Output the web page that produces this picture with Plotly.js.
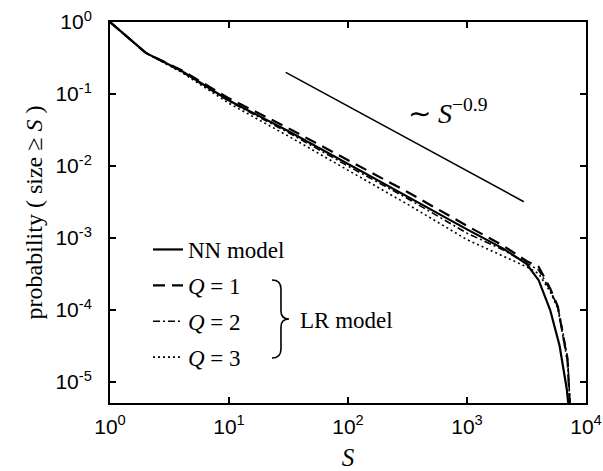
<!DOCTYPE html>
<html>
<head>
<meta charset="utf-8">
<script src="https://cdn.plot.ly/plotly-3.0.1.min.js"></script>
<style>html,body{margin:0;padding:0;background:#fff;}#plot{width:603px;height:471px;}</style>
</head>
<body>
<div id="plot"></div>
<script>
// ---- data ----
const nnS = [1, 2, 4, 10, 32, 100, 316, 1000, 2000, 3160, 4000, 5000, 6000, 6900, 7200];
const nnP = [1, 0.372, 0.209, 0.0813, 0.0302, 0.0107, 0.0038, 0.00132, 0.00072, 0.00044, 0.00026, 0.0001, 0.000032, 0.0000079, 0.000004];

const q1S = [1, 2, 4, 10, 32, 100, 316, 1000, 2000, 3160, 4000, 5000, 5800, 6300, 7000, 7250, 7400];
const q1P = [1, 0.372, 0.214, 0.0871, 0.0331, 0.0120, 0.00437, 0.00148, 0.00079, 0.00048, 0.00040, 0.00020, 0.000112, 0.000052, 0.000020, 0.0000063, 0.0000032];

const q2S = [1, 2, 4, 10, 32, 100, 316, 1000, 2000, 3160, 4000, 5000, 5800, 6300, 7000, 7300, 7450];
const q2P = [1, 0.372, 0.204, 0.0794, 0.0288, 0.0100, 0.00355, 0.00117, 0.00069, 0.00045, 0.00036, 0.00019, 0.00011, 0.000056, 0.000022, 0.0000063, 0.0000032];

const q3S = [1, 2, 4, 10, 32, 100, 316, 1000, 2000, 3160, 4000, 5000, 5800, 6300, 7000, 7300, 7450];
const q3P = [1, 0.372, 0.200, 0.0741, 0.0257, 0.0087, 0.00295, 0.00095, 0.00056, 0.00040, 0.00032, 0.00018, 0.000105, 0.000050, 0.000019, 0.0000056, 0.0000032];

const refS = [30, 3000];
const refP = [0.2, 0.0032];

const seriesNames = ['NN model', '<i>Q</i> = 1', '<i>Q</i> = 2', '<i>Q</i> = 3'];
const xTickVals = [1, 10, 100, 1000, 10000];
const xTickText = ['10<sup>0</sup>', '10<sup>1</sup>', '10<sup>2</sup>', '10<sup>3</sup>', '10<sup>4</sup>'];
const yTickVals = [1, 0.1, 0.01, 0.001, 0.0001, 0.00001];
const yTickText = ['10<sup>0</sup>', '10<sup>-1</sup>', '10<sup>-2</sup>', '10<sup>-3</sup>', '10<sup>-4</sup>', '10<sup>-5</sup>'];

// ---- layout helpers (pixel -> paper) ----
const W = 603, H = 471, L = 110, R = 17, T = 22, B = 68;
const pw = W - L - R, ph = H - T - B;
const px = x => ((x - L) / pw).toFixed(4);
const py = y => ((H - B - y) / ph).toFixed(4);

const serif = 'Liberation Serif, Times New Roman, serif';
const sans = 'Liberation Sans, Arial, sans-serif';

const traces = [
  {x: nnS, y: nnP, name: seriesNames[0], legendgroup: 'a', mode: 'lines', line: {color: '#000', width: 2.2}},
  {x: q1S, y: q1P, name: seriesNames[1], legendgroup: 'b', mode: 'lines', line: {color: '#000', width: 2.2, dash: '12px,7px'}},
  {x: q2S, y: q2P, name: seriesNames[2], legendgroup: 'c', mode: 'lines', line: {color: '#000', width: 1.6, dash: '7px,3px,2px,3px'}},
  {x: q3S, y: q3P, name: seriesNames[3], legendgroup: 'd', mode: 'lines', line: {color: '#000', width: 1.6, dash: '2px,3px'}},
  {x: refS, y: refP, showlegend: false, mode: 'lines', line: {color: '#000', width: 1.6}}
];

// brace path in pixel coordinates, converted to paper
const braceP = [[272,280],[281,280],[281,289],[281,311],[281,319],[289,319],[281,319],[281,327],[281,349],[281,358],[272,358]];
const bp = braceP.map(p => [px(p[0]), py(p[1])]);
const bracePath = `M${bp[0][0]},${bp[0][1]} Q${bp[1][0]},${bp[1][1]} ${bp[2][0]},${bp[2][1]} L${bp[3][0]},${bp[3][1]} Q${bp[4][0]},${bp[4][1]} ${bp[5][0]},${bp[5][1]} Q${bp[6][0]},${bp[6][1]} ${bp[7][0]},${bp[7][1]} L${bp[8][0]},${bp[8][1]} Q${bp[9][0]},${bp[9][1]} ${bp[10][0]},${bp[10][1]}`;

const axisCommon = {
  type: 'log', showgrid: false, zeroline: false, showline: true, linecolor: '#000', linewidth: 2,
  mirror: 'ticks', ticks: 'inside', ticklen: 6, tickwidth: 1.5, tickcolor: '#000',
  tickfont: {family: sans, size: 21, color: '#000'}
};

const layout = {
  width: W, height: H,
  margin: {l: L, r: R, t: T, b: B},
  paper_bgcolor: '#fff', plot_bgcolor: '#fff',
  showlegend: true,
  xaxis: Object.assign({}, axisCommon, {
    range: [0, 4], tickvals: xTickVals, ticktext: xTickText, ticklabelstandoff: 4,
    title: {text: '<i>S</i>', font: {family: serif, size: 25, color: '#000'}, standoff: 14}
  }),
  yaxis: Object.assign({}, axisCommon, {
    range: [-5.29, 0], tickvals: yTickVals, ticktext: yTickText, ticklabelstandoff: 12,
    title: {text: 'probability ( size ≥ <i>S</i> )', font: {family: serif, size: 24, color: '#000'}, standoff: 6}
  }),
  legend: {
    x: px(148), y: py(228), xanchor: 'left', yanchor: 'top',
    bgcolor: 'rgba(0,0,0,0)', borderwidth: 0, traceorder: 'grouped', tracegroupgap: 3,
    font: {family: serif, size: 23, color: '#000'}
  },
  shapes: [
    {type: 'path', xref: 'paper', yref: 'paper', path: bracePath, line: {color: '#000', width: 1.6}}
  ],
  annotations: [
    {xref: 'paper', yref: 'paper', x: px(298), y: py(320), xanchor: 'left', yanchor: 'middle', showarrow: false,
     text: 'LR model', font: {family: serif, size: 23, color: '#000'}},
    {xref: 'paper', yref: 'paper', x: px(406), y: py(112), xanchor: 'left', yanchor: 'middle', showarrow: false,
     text: '∼ <i>S</i><sup>−0.9</sup>', font: {family: serif, size: 28, color: '#000'}}
  ]
};

Plotly.newPlot('plot', traces, layout, {staticPlot: true, displayModeBar: false});
</script>
</body>
</html>
